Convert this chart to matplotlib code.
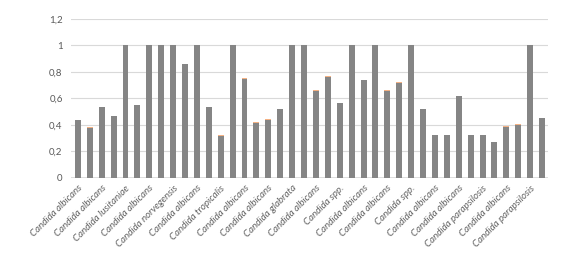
import numpy as np
import matplotlib.pyplot as plt

# valores por cepa (40 barras), etiqueta visible cada dos barras
valores = [0.435, 0.378, 0.534, 0.466, 1.0, 0.549, 1.0, 1.0, 1.0, 0.859,
           1.0, 0.534, 0.317, 1.0, 0.746, 0.413, 0.438, 0.519, 1.0, 1.0,
           0.655, 0.761, 0.564, 1.0, 0.738, 1.0, 0.655, 0.718, 1.0, 0.519,
           0.322, 0.322, 0.617, 0.322, 0.322, 0.270, 0.383, 0.403, 1.0, 0.451]
# segunda serie apilada (muy pequeña, en naranja)
extra = [0.006, 0.006, 0, 0, 0.006, 0, 0.006, 0.006, 0.006, 0,
         0.006, 0, 0.006, 0.006, 0.006, 0.006, 0.006, 0, 0.006, 0.006,
         0.006, 0.006, 0, 0.006, 0, 0.006, 0.006, 0.006, 0.006, 0,
         0, 0, 0, 0, 0, 0, 0.006, 0.006, 0.006, 0]
etiquetas = ["Candida albicans", "Candida albicans", "Candida lusitaniae",
             "Candida albicans", "Candida norvegensis", "Candida albicans",
             "Candida tropicalis", "Candida albicans", "Candida albicans",
             "Candida glabrata", "Candida albicans", "Candida spp.",
             "Candida albicans", "Candida albicans", "Candida spp.",
             "Candida albicans", "Candida albicans", "Candida parapsilosis",
             "Candida albicans", "Candida parapsilosis"]
yticks = [0, 0.2, 0.4, 0.6, 0.8, 1.0, 1.2]

x = np.arange(len(valores))

fig = plt.figure(figsize=(5.88, 2.56), dpi=100)
ax = fig.add_axes([0.1207, 0.3047, 0.8113, 0.6211])

ax.bar(x, valores, width=0.5, color='#858585', zorder=2)
ax.bar(x, extra, width=0.5, bottom=valores, color='#f4b183', zorder=2)

ax.set_ylim(0, 1.2)
ax.set_xlim(-0.58, len(valores) - 0.5)
ax.set_yticks(yticks)
ax.set_yticklabels([f"{v:g}".replace('.', ',') for v in yticks],
                   fontsize=7, color='#595959', family='Lato')
ax.set_xticks(x[::2])
ax.set_xticklabels(etiquetas, rotation=45, ha='right', rotation_mode='anchor',
                   fontsize=7, style='italic', color='#606060', family='Lato')

ax.grid(axis='y', color='#d9d9d9', linewidth=0.8, zorder=0)
for s in ax.spines.values():
    s.set_visible(False)
ax.axhline(0, color='#d9d9d9', linewidth=1.2, zorder=1)
ax.tick_params(axis='both', length=0, pad=6)
ax.tick_params(axis='x', pad=4)

fig.savefig('out.png', dpi=100)
